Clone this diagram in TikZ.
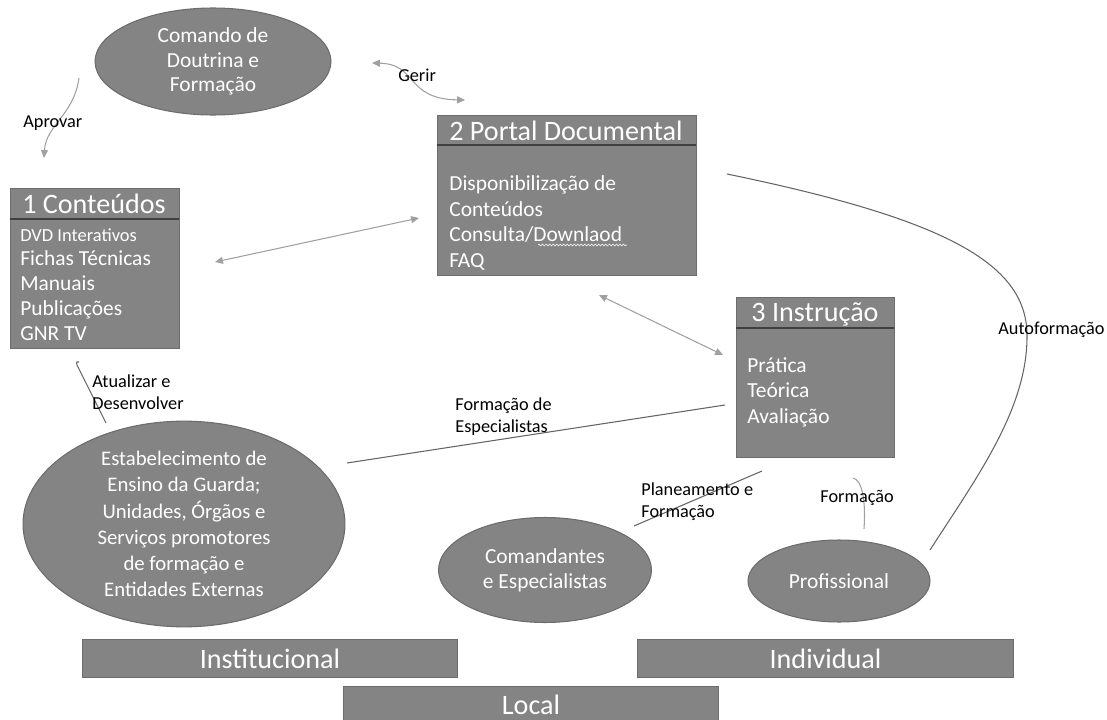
\documentclass[tikz,border=0pt]{standalone}
\usepackage{fontspec}
\setmainfont{Carlito}
\usetikzlibrary{arrows.meta, shapes.geometric, decorations.pathmorphing}
\definecolor{boxgray}{RGB}{132,132,132}
\definecolor{edgegray}{RGB}{108,108,108}
\definecolor{linegray}{RGB}{160,160,160}
\definecolor{darkline}{RGB}{100,100,100}
\tikzset{
  % Set arrowhead
  >={Triangle[length=4.5pt, width=4pt]},
  % Gray box
  blk/.style={draw=edgegray, fill=boxgray, shape=rectangle, inner sep=0pt,
    anchor=north west, line width=0.6pt},
  % Gray ellipse
  ell/.style={draw=edgegray, fill=boxgray, shape=ellipse, inner sep=0pt,
    text=white, align=center, line width=0.6pt},
  % Box title
  ttl/.style={text=white, inner sep=0pt, font=\fontsize{16}{19}\selectfont},
  % Box items
  itm/.style={text=white, align=left, anchor=west, inner sep=0pt},
  % Connector label
  lbl/.style={align=left, anchor=west, inner sep=0pt,
    font=\fontsize{10.4}{12.5}\selectfont},
  % Connectors
  con/.style={draw=linegray, line width=0.6pt},
  con<->/.style={con, <->},
  con-/.style={draw=darkline, line width=0.6pt},
  % Header rule
  hdr/.style={draw=black!75, line width=1pt},
  % Spelling squiggle
  squig/.style={draw=white!85!gray, line width=0.4pt, decorate,
    decoration={snake, amplitude=0.5pt, segment length=2pt}},
}

\begin{document}
\begin{tikzpicture}[x=0.02cm, y=-0.02cm]
  \useasboundingbox (0,0) rectangle (1107,720);

  % Comando de Doutrina e Formacao
  \node[ell, minimum width=4.72cm, minimum height=2.14cm,
    font=\fontsize{12.2}{14}\selectfont] (cdf) at (213,61.5)
    {Comando de\\Doutrina e\\Formação};

  % 1 Conteudos
  \node[blk, minimum width=3.38cm, minimum height=3.2cm] (cont) at (10,188) {};
  \node[ttl] (contT) at (94,204) {1 Conteúdos};
  \draw[hdr] (cont.north west) ++(0,31) -- ++(169,0);
  \node[itm, font=\fontsize{10.5}{12}\selectfont] (contA) at (20,235)
    {DVD Interativos};
  \node[itm, font=\fontsize{12.2}{14.2}\selectfont] (contB) at (20,295.5)
    {Fichas Técnicas\\Manuais\\Publicações\\GNR TV};

  % 2 Portal Documental
  \node[blk, minimum width=5.18cm, minimum height=3.2cm] (port) at (437,115) {};
  \node[ttl] (portT) at (566,131) {2 Portal Documental};
  \draw[hdr] (port.north west) ++(0,30) -- ++(259,0);
  \node[itm, font=\fontsize{12.2}{14.6}\selectfont] (portB) at (449,223)
    {Disponibilização de\\Conteúdos\\Consulta/Downlaod\\FAQ};
  \draw[squig] (538,245) -- (627,245);

  % 3 Instrucao
  \node[blk, minimum width=3.16cm, minimum height=3.2cm] (inst) at (736,297) {};
  \node[ttl] (instT) at (815,314) {3 Instrução};
  \draw[hdr] (inst.north west) ++(0,31) -- ++(158,0);
  \node[itm, font=\fontsize{12.2}{14.5}\selectfont] (instB) at (747,392)
    {Prática\\Teórica\\Avaliação};

  % Ellipses at the bottom
  \node[ell, minimum width=6.44cm, minimum height=4.08cm,
    font=\fontsize{11.8}{14.9}\selectfont] (ensi) at (184,524)
    {Estabelecimento de\\Ensino da Guarda;\\Unidades, Órgãos e\\Serviços promotores\\de formação e\\Entidades Externas};
  \node[ell, minimum width=4.26cm, minimum height=2.1cm,
    font=\fontsize{12.2}{14.2}\selectfont] (coma) at (545,570)
    {Comandantes\\e Especialistas};
  \node[ell, minimum width=3.64cm, minimum height=1.64cm,
    font=\fontsize{12.2}{14.2}\selectfont] (prof) at (839,581) {Profissional};

  % Levels
  \node[blk, minimum width=7.5cm, minimum height=0.76cm] (inl) at (82,639) {};
  \node[ttl] at (inl.center) {Institucional};
  \node[blk, minimum width=7.52cm, minimum height=0.76cm] (ind) at (637,639) {};
  \node[ttl] at (ind.center) {Individual};
  \node[blk, minimum width=7.5cm, minimum height=0.72cm] (loc) at (343,686) {};
  \node[ttl] at (loc.center) {Local};

  % Connector ends
  \coordinate (g1) at (372,63);
  \coordinate (g2) at (465,100);
  \coordinate (a1) at (79,78);
  \coordinate (a2) at (44,158);
  \coordinate (p1) at (215,262);
  \coordinate (p2) at (419,218);
  \coordinate (i1) at (599,295);
  \coordinate (i2) at (723,355);
  \coordinate (u1) at (106,423);
  \coordinate (u2) at (79,362);
  \coordinate (e1) at (347,463);
  \coordinate (e2) at (725,405);
  \coordinate (f1) at (634,526);
  \coordinate (f2) at (762,471);
  \coordinate (h1) at (853,478);
  \coordinate (h2) at (864,529);
  \coordinate (s1) at (727,174);
  \coordinate (s2) at (930,550);

  % Connectors
  \draw[con<->] (g1) .. controls (418,64) and (405,99) .. (g2);
  \draw[con, ->] (a1) .. controls (74,115) and (46,125) .. (a2);
  \draw[con<->] (p1) -- (p2);
  \draw[con<->] (i1) -- (i2);
  \draw[con-] (u1) -- (77,365) .. controls (76,362) and (77,361) .. (u2);
  \draw[con-] (e1) -- (e2);
  \draw[con-] (f1) -- (f2);
  \draw[con] (h1) .. controls (862,480) and (866,500) .. (h2);
  \draw[con-] (s1) .. controls (950,220) and (1028,265) .. (1027,337)
    .. controls (1027,410) and (975,480) .. (s2);

  % Labels
  \node[lbl] (lApr) at (23,123) {Aprovar};
  \node[lbl] (lGer) at (398,75) {Gerir};
  \node[lbl] (lAtu) at (92,392) {Atualizar e\\Desenvolver};
  \node[lbl] (lEsp) at (455,417) {Formação de\\Especialistas};
  \node[lbl] (lPla) at (641,502) {Planeamento e\\Formação};
  \node[lbl] (lFor) at (820,498) {Formação};
  \node[lbl] (lAut) at (998,330) {Autoformação};
\end{tikzpicture}
\end{document}
